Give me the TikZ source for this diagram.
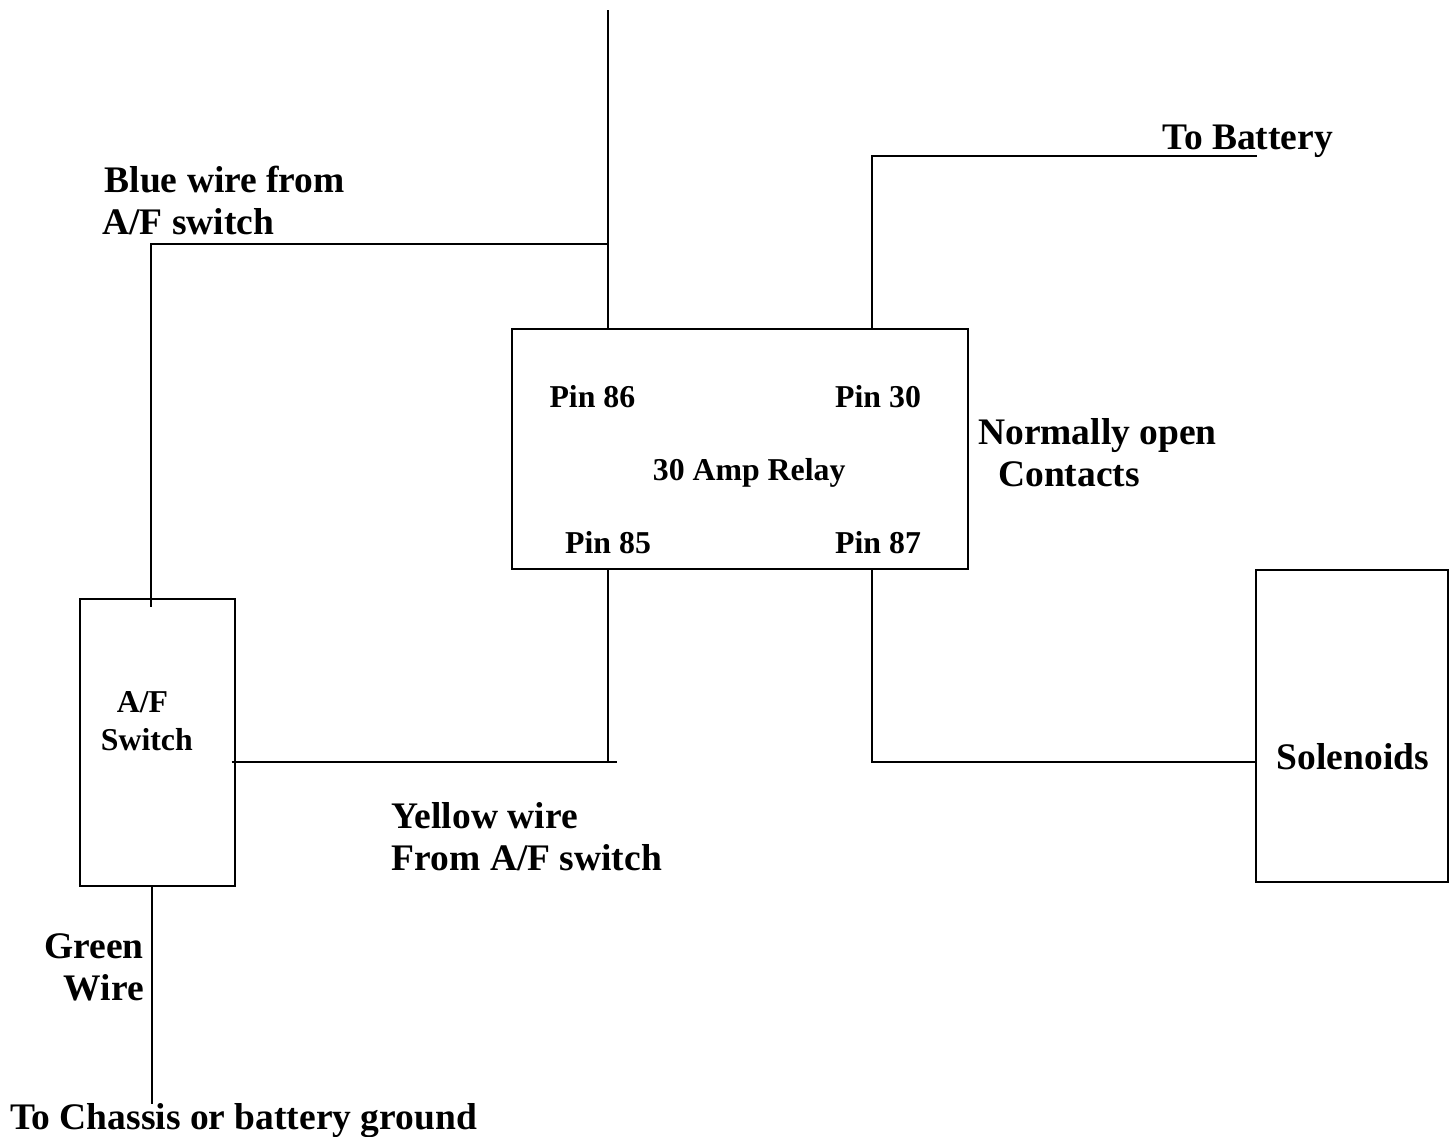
\documentclass[tikz,border=0pt]{standalone}
\usepackage{fontspec}
\setmainfont{Liberation Serif}
\begin{document}
\begin{tikzpicture}[x=1pt,y=-1pt,
  wire/.style={line width=2pt},
  boxnode/.style={draw,line width=2pt,rectangle,inner sep=0pt},
  big/.style={font=\fontsize{37.5}{41.5}\selectfont\bfseries,inner sep=0pt},
  small/.style={font=\fontsize{31.8}{38}\selectfont\bfseries,inner sep=0pt}]
\useasboundingbox (0,0) rectangle (1453,1136);
% boxes
\node[boxnode,minimum width=456pt,minimum height=239.7pt] (relay) at (740.3,449.2) {};
\node[boxnode,minimum width=155pt,minimum height=287.3pt] (afs) at (157.5,742.3) {};
\node[boxnode,minimum width=192.3pt,minimum height=311.7pt] (sol) at (1352.2,725.9) {};
% coordinates
\coordinate (top) at (608.3,10);
\coordinate (j1) at (608.3,244.3);
\coordinate (bl) at (151,244.3);
\coordinate (blend) at (151,606.7);
\coordinate (bat) at (1256.7,155.7);
\coordinate (p30) at (872.3,155.7);
\coordinate (yl) at (231.7,761.7);
\coordinate (yr) at (616.7,761.7);
\coordinate (p85) at (608.3,761.7);
\coordinate (p87) at (872.3,761.7);
\coordinate (gnd) at (152.3,1104);
% wires
\draw[wire] (top) -- (top |- relay.north);
\draw[wire] (j1) -- (bl) -- (blend);
\draw[wire] (p30 |- relay.north) -- (p30) -- (bat);
\draw[wire] (yl) -- (yr);
\draw[wire] (p85 |- relay.south) -- (p85);
\draw[wire] (p87 |- relay.south) -- (p87) -- (p87 -| sol.west);
\draw[wire] (gnd |- afs.south) -- (gnd);
% texts
\node[big,anchor=base west] (t1) at (104.5,192.7) {Blue wire from};
\node[big,anchor=base west] (t2) at (102.2,234) {A/F switch};
\node[big,anchor=base west] (t3) at (1162.2,149) {To Battery};
\node[small,anchor=base west] (t4) at (549.3,407) {Pin 86};
\node[small,anchor=base west] (t5) at (835,407) {Pin 30};
\node[small,anchor=base west] (t6) at (652.7,480.3) {30 Amp Relay};
\node[small,anchor=base west] (t7) at (565,553.7) {Pin 85};
\node[small,anchor=base west] (t8) at (835,553.7) {Pin 87};
\node[big,anchor=base west] (t9) at (978,444) {Normally open};
\node[big,anchor=base west] (t10) at (998,486) {Contacts};
\node[small,anchor=base west] (t11) at (116.7,712.2) {A/F};
\node[small,anchor=base west] (t12) at (100.7,750.5) {Switch};
\node[big,anchor=base west] (t13) at (391.7,828) {Yellow wire};
\node[big,anchor=base west] (t14) at (391.7,870) {From A/F switch};
\node[big,anchor=base west] (t15) at (1276.7,769) {Solenoids};
\node[big,anchor=base east] (t16) at (144,958.3) {Green};
\node[big,anchor=base east] (t17) at (144,1000.7) {Wire};
\node[big,anchor=base west] (t18) at (10,1129.3) {To Chassis or battery ground};
\end{tikzpicture}
\end{document}
